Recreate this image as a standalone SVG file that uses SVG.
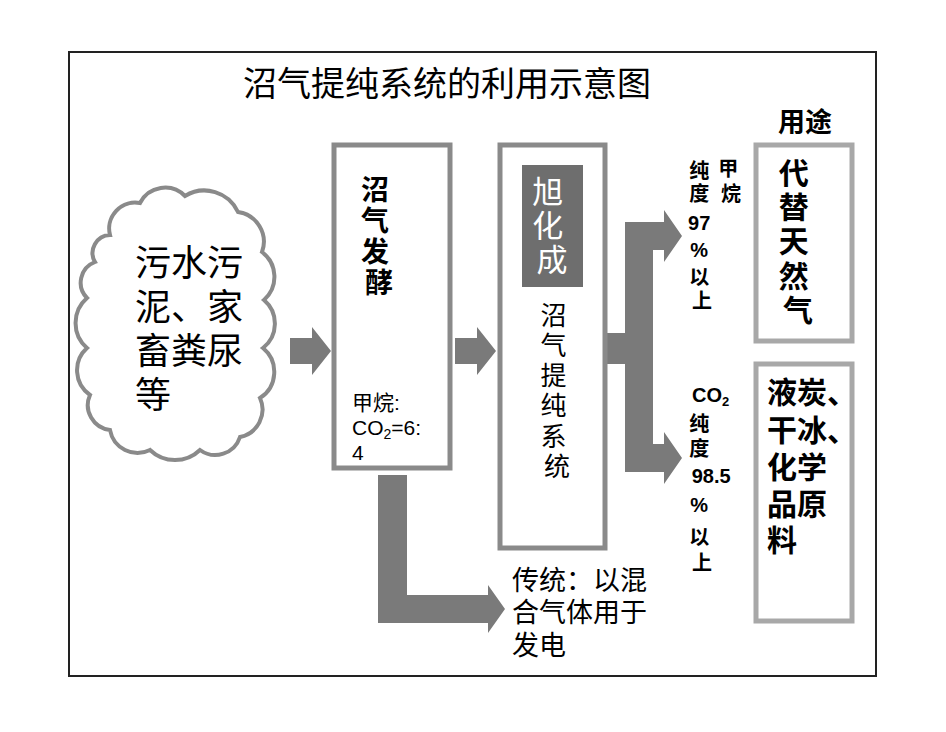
<svg xmlns="http://www.w3.org/2000/svg" width="946" height="732" viewBox="0 0 946 732">
<style>
text{font-family:"Liberation Sans","Noto Sans CJK SC",sans-serif;fill:#000}
.b{font-weight:bold}
.box{fill:#fff;stroke:#8a8a8a;stroke-width:5}
.box2{fill:#fff;stroke:#a8a8a8;stroke-width:5}
.arr{fill:#7a7a7a}
.c{text-anchor:middle}
.w{fill:#fff}
</style>
<rect x="0" y="0" width="946" height="732" fill="#fff"/>
<rect id="frame" x="69" y="52" width="807" height="624" fill="none" stroke="#222" stroke-width="2"/>
<text id="title" x="447" y="96" font-size="34" class="c">沼气提纯系统的利用示意图</text>
<text id="usage-title" x="805" y="132" font-size="27" class="b c">用途</text>

<g id="connectors">
  <path class="arr" d="M290,338 H312 V327 L331,351 L312,375 V364 H290 Z"/>
  <path class="arr" d="M455,338 H477 V327 L496,351 L477,375 V364 H455 Z"/>
  <path class="arr" d="M607,333 H625 V222 H664 V210 L682,236 L664,262 V250 H653 V444 H664 V432 L682,458 L664,484 V472 H625 V364 H607 Z"/>
  <path class="arr" d="M378,475 H407 V595 H488 V585 L505,609 L488,633 V623 H378 Z"/>
</g>

<g id="source">
  <path d="M110,235 A26,26 0 0 1 140,203 A28,28 0 0 1 185,196 A37,37 0 0 1 238,212 A30,30 0 0 1 262,252 A31,31 0 0 1 264,300 A31,31 0 0 1 263,348 A31,31 0 0 1 260,398 A28,28 0 0 1 240,437 A26,26 0 0 1 200,450 A36,36 0 0 1 150,450 A28,28 0 0 1 110,430 A25,25 0 0 1 90,395 A30,30 0 0 1 87,348 A33,33 0 0 1 87,298 A22,22 0 0 1 95,262 A18,18 0 0 1 110,235 Z" fill="#fff" stroke="#8a8a8a" stroke-width="4"/>
  <text font-size="36" x="135">
    <tspan x="135" y="276">污水污</tspan>
    <tspan x="135" y="320">泥、家</tspan>
    <tspan x="135" y="364">畜粪尿</tspan>
    <tspan x="135" y="408">等</tspan>
  </text>
</g>

<g id="fermentation">
  <rect class="box" x="334" y="145" width="116" height="323"/>
  <text class="b c" font-size="28">
    <tspan x="379" y="200">沼</tspan>
    <tspan x="379" y="231">气</tspan>
    <tspan x="379" y="262">发</tspan>
    <tspan x="379" y="293">酵</tspan>
  </text>
  <text font-size="21" x="352" y="410">甲烷:</text>
  <text font-size="21" x="352" y="435">CO<tspan font-size="14" dy="4">2</tspan><tspan dy="-4">=6:</tspan></text>
  <text font-size="21" x="352" y="460">4</text>
</g>

<g id="purification">
  <rect class="box" x="500" y="145" width="105" height="403"/>
  <rect x="522" y="165" width="61" height="122" fill="#6e6e6e"/>
  <text class="c w" font-size="31">
    <tspan x="552" y="203">旭</tspan>
    <tspan x="552" y="237">化</tspan>
    <tspan x="552" y="271">成</tspan>
  </text>
  <text class="c" font-size="26">
    <tspan x="557" y="325">沼</tspan>
    <tspan x="557" y="355">气</tspan>
    <tspan x="557" y="385">提</tspan>
    <tspan x="557" y="415">纯</tspan>
    <tspan x="557" y="446">系</tspan>
    <tspan x="557" y="476">统</tspan>
  </text>
</g>

<g id="traditional">
  <text font-size="27">
    <tspan x="512" y="590">传统：以混</tspan>
    <tspan x="512" y="622">合气体用于</tspan>
    <tspan x="512" y="655">发电</tspan>
  </text>
</g>

<g id="methane-label">
  <text class="b c" font-size="20">
    <tspan x="731" y="176">甲</tspan>
    <tspan x="731" y="201">烷</tspan>
  </text>
  <text class="b c" font-size="20">
    <tspan x="702" y="178">纯</tspan>
    <tspan x="702" y="201">度</tspan>
    <tspan x="702" y="230">97</tspan>
    <tspan x="702" y="257">%</tspan>
    <tspan x="702" y="285">以</tspan>
    <tspan x="702" y="308">上</tspan>
  </text>
</g>

<g id="co2-label">
  <text class="b" font-size="20" x="692" y="402">CO<tspan font-size="13" dy="4">2</tspan></text>
  <text class="b c" font-size="20">
    <tspan x="702" y="431">纯</tspan>
    <tspan x="702" y="456">度</tspan>
    <tspan x="714" y="483">98.5</tspan>
    <tspan x="702" y="512">%</tspan>
    <tspan x="702" y="545">以</tspan>
    <tspan x="702" y="570">上</tspan>
  </text>
</g>

<g id="use-gas">
  <rect class="box2" x="756" y="145" width="96" height="196"/>
  <text class="b c" font-size="30">
    <tspan x="798" y="184">代</tspan>
    <tspan x="798" y="218">替</tspan>
    <tspan x="798" y="252">天</tspan>
    <tspan x="798" y="287">然</tspan>
    <tspan x="798" y="321">气</tspan>
  </text>
</g>

<g id="use-co2">
  <rect class="box2" x="756" y="364" width="96" height="257"/>
  <text class="b" font-size="30">
    <tspan x="767" y="403">液炭、</tspan>
    <tspan x="767" y="441">干冰、</tspan>
    <tspan x="767" y="478">化学</tspan>
    <tspan x="767" y="515">品原</tspan>
    <tspan x="767" y="551">料</tspan>
  </text>
</g>
</svg>
